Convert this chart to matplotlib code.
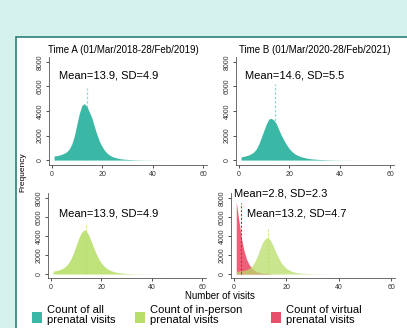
import matplotlib.pyplot as plt
import matplotlib.patches as mpatches

# number of visits (x) and frequency
visits = list(range(1, 51))
all_a = [330, 360, 400, 470, 560, 680, 900, 1300, 1950, 2900,
         3800, 4450, 4600, 4350, 3900, 3400, 2700, 2050, 1500, 1100,
         780, 560, 400, 290, 215, 160, 120, 90, 70, 55,
         44, 35, 28, 22, 18, 14, 11, 9, 7, 6,
         5, 4, 3, 3, 2, 2, 1, 1, 1, 1]
all_b = [270, 300, 350, 420, 520, 660, 900, 1300, 1850, 2400,
         2950, 3350, 3400, 3250, 2950, 2450, 2000, 1600, 1250, 950,
         720, 550, 420, 330, 260, 205, 160, 125, 100, 80,
         64, 52, 42, 34, 28, 23, 19, 15, 12, 10,
         8, 7, 6, 5, 4, 3, 3, 2, 2, 1]
inperson_a = [300, 340, 400, 490, 620, 820, 1120, 1550, 2150, 2900,
              3650, 4250, 4600, 4550, 4150, 3500, 2800, 2150, 1600, 1180,
              860, 630, 460, 340, 250, 185, 140, 105, 80, 62,
              48, 38, 30, 24, 19, 15, 12, 10, 8, 6,
              5, 4, 4, 3, 3, 2, 2, 1, 1, 1]
inperson_b = [280, 300, 330, 380, 460, 600, 850, 1250, 1850, 2600,
              3300, 3700, 3800, 3550, 3000, 2350, 1750, 1250, 880, 620,
              430, 300, 215, 155, 115, 85, 65, 50, 38, 30,
              24, 19, 15, 12, 10, 8, 6, 5, 4, 3,
              3, 2, 2, 2, 1, 1, 1, 1, 1, 1]
virtual_visits = list(range(1, 21))
virtual_b = [7600, 5600, 3700, 2400, 1500, 950, 600, 380, 240, 150,
             95, 60, 38, 24, 15, 10, 6, 4, 2, 1]

# means and SDs shown on the panels
mean_all_a, sd_all_a = 13.9, 4.9
mean_all_b, sd_all_b = 14.6, 5.5
mean_inp_a, sd_inp_a = 13.9, 4.9
mean_inp_b, sd_inp_b = 13.2, 4.7
mean_vir_b, sd_vir_b = 2.8, 2.3

xticks = [0, 20, 40, 60]
yticks = [0, 2000, 4000, 6000, 8000]
titles = ["Time A (01/Mar/2018-28/Feb/2019)", "Time B (01/Mar/2020-28/Feb/2021)"]
legend_labels = ["Count of all\nprenatal visits", "Count of in-person\nprenatal visits",
                 "Count of virtual\nprenatal visits"]

teal = "#3bb7a5"
green = "#b7de68"
red = "#e8506a"

plt.rcParams['font.family'] = ['Liberation Sans', 'DejaVu Sans']

W, H = 407, 328
fig = plt.figure(figsize=(W / 100, H / 100), dpi=100)
fig.patch.set_facecolor("#d6f2ed")

# white panel with dark teal border, behind the axes
fig.add_artist(mpatches.Rectangle((16 / W, -0.05), 1.1, (H - 37) / H + 0.05,
                                  transform=fig.transFigure, facecolor="white",
                                  edgecolor="#2c7f78", linewidth=1.2, zorder=-5))


def px_axes(x0, y0, x1, y1):
    return fig.add_axes([x0 / W, (H - y1) / H, (x1 - x0) / W, (y1 - y0) / H])


def style(ax, ylim):
    ax.set_xlim(-1, 61.5)
    ax.set_ylim(*ylim)
    ax.set_xticks(xticks)
    ax.set_yticks(yticks)
    ax.tick_params(labelsize=5, length=2.5, width=0.6, pad=1.5, colors="#333333")
    for lab in ax.get_yticklabels():
        lab.set_rotation(90)
        lab.set_va("center")
    for s in ["top", "right"]:
        ax.spines[s].set_visible(False)
    for s in ["left", "bottom"]:
        ax.spines[s].set_linewidth(0.6)
        ax.spines[s].set_color("#555555")
    ax.set_facecolor("none")


ax1 = px_axes(49, 57, 207, 165)
ax2 = px_axes(236, 57, 394, 165)
ax3 = px_axes(48, 193, 206, 278)
ax4 = px_axes(231, 193, 395, 278)

top_lim = (-400, 8400)
bot_lim = (-420, 8500)
dash = (0, (2, 1.5))

# Time A, all visits
ax1.fill_between(visits, all_a, color=teal, linewidth=0, zorder=2)
ax1.vlines(mean_all_a, 0, 5900, colors="#8fd8cc", linestyles=dash, linewidth=0.9, zorder=1)
ax1.text(2.8, 6900, f"Mean={mean_all_a}, SD={sd_all_a}", fontsize=8, va="center")
ax1.set_title(titles[0], fontsize=7, pad=3, x=0.47)
style(ax1, top_lim)

# Time B, all visits
ax2.fill_between(visits, all_b, color=teal, linewidth=0, zorder=2)
ax2.vlines(mean_all_b, 0, 6200, colors="#8fd8cc", linestyles=dash, linewidth=0.9, zorder=1)
ax2.text(2.4, 6900, f"Mean={mean_all_b}, SD={sd_all_b}", fontsize=8, va="center")
ax2.set_title(titles[1], fontsize=7, pad=3)
style(ax2, top_lim)

# Time A, in-person visits
ax3.fill_between(visits, inperson_a, color=green, linewidth=0, alpha=0.88, zorder=2)
ax3.vlines(mean_inp_a, 0, 5200, colors="#cfe37a", linestyles=dash, linewidth=0.8, zorder=1)
ax3.text(3.2, 6400, f"Mean={mean_inp_a}, SD={sd_inp_a}", fontsize=8, va="center")
style(ax3, bot_lim)

# Time B, in-person and virtual visits
ax4.fill_between(virtual_visits, virtual_b, color=red, linewidth=0, alpha=0.9, zorder=2)
ax4.fill_between(visits, inperson_b, color=green, linewidth=0, alpha=0.75, zorder=3)
ax4.vlines(mean_vir_b, 0, 7500, colors="#d8203f", linestyles=dash, linewidth=0.8, zorder=4)
ax4.vlines(mean_inp_b, 0, 4700, colors="#cfe37a", linestyles=dash, linewidth=0.8, zorder=1)
ax4.text(0.2, 8500, f"Mean={mean_vir_b}, SD={sd_vir_b}", fontsize=8, va="center")
ax4.text(5, 6400, f"Mean={mean_inp_b}, SD={sd_inp_b}", fontsize=8, va="center")
style(ax4, bot_lim)

fig.text(220 / W, (H - 296) / H, "Number of visits", fontsize=7, ha="center", va="center")
fig.text(23 / W, (H - 172) / H, "Frequency", fontsize=6, rotation=90, ha="center", va="center")

# legend boxes
for i, (xs, col) in enumerate(zip([32, 135, 271], [teal, green, red])):
    fig.add_artist(mpatches.Rectangle((xs / W, (H - 323) / H), 10 / W, 11 / H,
                                      transform=fig.transFigure, facecolor=col, edgecolor="none"))
    fig.text((xs + 15) / W, (H - 315) / H, legend_labels[i], fontsize=8,
             ha="left", va="center", linespacing=1.05)

fig.savefig("out.png", dpi=100)
